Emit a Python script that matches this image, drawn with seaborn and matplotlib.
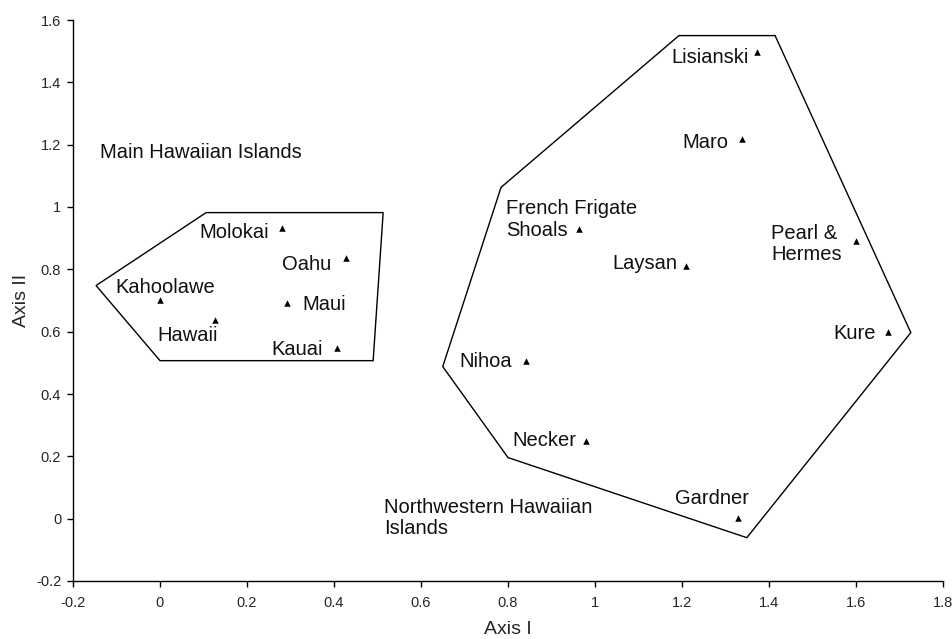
import matplotlib
matplotlib.use("Agg")
import matplotlib.pyplot as plt
import seaborn as sns
import pandas as pd

# Ordination scores of the islands
islands = ["Kahoolawe", "Hawaii", "Molokai", "Oahu", "Maui", "Kauai",
           "Lisianski", "Maro", "French Frigate\nShoals", "Laysan",
           "Pearl &\nHermes", "Kure", "Nihoa", "Necker", "Gardner"]
axis1 = [0.00, 0.126, 0.280, 0.428, 0.292, 0.408,
         1.372, 1.338, 0.963, 1.209, 1.600, 1.674, 0.841, 0.979, 1.329]
axis2 = [0.703, 0.636, 0.934, 0.835, 0.693, 0.546,
         1.496, 1.217, 0.931, 0.812, 0.892, 0.600, 0.507, 0.250, 0.003]

# Convex hulls around the two island groups
main_hull_x = [-0.147, 0.106, 0.513, 0.490, 0.000]
main_hull_y = [0.748, 0.982, 0.982, 0.507, 0.507]
nw_hull_x = [0.784, 1.193, 1.414, 1.726, 1.349, 0.800, 0.650]
nw_hull_y = [1.063, 1.550, 1.550, 0.597, -0.061, 0.196, 0.488]

x_ticks = [-0.2, 0, 0.2, 0.4, 0.6, 0.8, 1, 1.2, 1.4, 1.6, 1.8]
x_tick_labels = ["-0.2", "0", "0.2", "0.4", "0.6", "0.8", "1", "1.2", "1.4", "1.6", "1.8"]
y_ticks = [-0.2, 0, 0.2, 0.4, 0.6, 0.8, 1, 1.2, 1.4, 1.6]
y_tick_labels = ["-0.2", "0", "0.2", "0.4", "0.6", "0.8", "1", "1.2", "1.4", "1.6"]

# Label placement relative to each marker: (dx px, dy px, horizontal alignment)
label_layout = {
    "Kahoolawe": (-45, 12, "left"),
    "Hawaii": (-57, -15, "left"),
    "Molokai": (-13, -5, "right"),
    "Oahu": (-15, -6, "right"),
    "Maui": (15, -2, "left"),
    "Kauai": (-15, -1, "right"),
    "Lisianski": (-8, -5, "right"),
    "Maro": (-14, -3, "right"),
    "French Frigate\nShoals": (-73, 9, "left"),
    "Laysan": (-9, 2, "right"),
    "Pearl &\nHermes": (-85, -3, "left"),
    "Kure": (-12, -2, "right"),
    "Nihoa": (-14, -1, "right"),
    "Necker": (-9, 0, "right"),
    "Gardner": (11, 19, "right"),
}

df = pd.DataFrame({"island": islands, "Axis I": axis1, "Axis II": axis2})

sns.set_style("ticks")
plt.rcParams["font.family"] = ["Liberation Sans", "DejaVu Sans"]

fig = plt.figure(figsize=(9.52, 6.39), dpi=100)
ax = fig.add_axes([73 / 952, 1 - 581 / 639, (943 - 73) / 952, (581 - 20) / 639])

ax.fill(main_hull_x, main_hull_y, facecolor="none", edgecolor="black", linewidth=1.0)
ax.fill(nw_hull_x, nw_hull_y, facecolor="none", edgecolor="black", linewidth=1.0)

sns.scatterplot(data=df, x="Axis I", y="Axis II", marker="^", color="black",
                s=22, edgecolor="black", linewidth=0, ax=ax, zorder=3)

for name, xv, yv in zip(islands, axis1, axis2):
    dx, dy, ha = label_layout[name]
    ax.annotate(name, (xv, yv), xytext=(dx, dy), textcoords="offset pixels",
                ha=ha, va="center", fontsize=14.5, color="#111111",
                multialignment="left", linespacing=1.15)

ax.text(-0.138, 1.175, "Main Hawaiian Islands", ha="left", va="center",
        fontsize=14.5, color="#111111")
ax.text(0.515, 0.002, "Northwestern Hawaiian\nIslands", ha="left", va="center",
        fontsize=14.5, color="#111111", linespacing=1.1)

ax.set_xlim(-0.2, 1.8)
ax.set_ylim(-0.2, 1.6)
ax.set_xticks(x_ticks)
ax.set_xticklabels(x_tick_labels, fontsize=10.5)
ax.set_yticks(y_ticks)
ax.set_yticklabels(y_tick_labels, fontsize=10.5)
ax.tick_params(axis="x", direction="out", length=4, width=1, color="black", pad=7)
ax.tick_params(axis="y", direction="out", length=4, width=1, color="black", pad=4.5)

ax.set_xlabel("Axis I", fontsize=14, labelpad=8)
ax.set_ylabel("Axis II", fontsize=14)
ax.yaxis.set_label_coords(-0.05, 0.5)

for side in ["top", "right"]:
    ax.spines[side].set_visible(False)
for side in ["left", "bottom"]:
    ax.spines[side].set_color("black")
    ax.spines[side].set_linewidth(1.0)

fig.savefig("out.png", dpi=100, facecolor="white")
